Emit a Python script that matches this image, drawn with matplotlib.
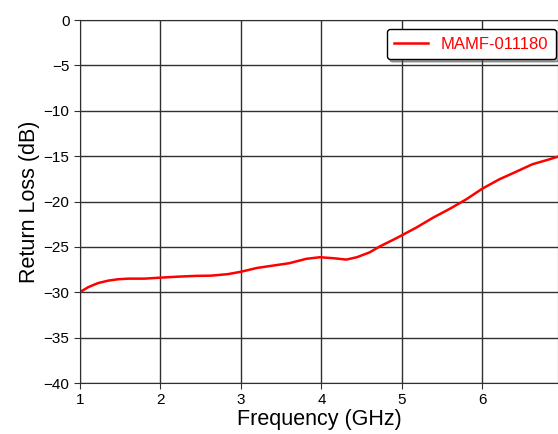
import numpy as np
import matplotlib
matplotlib.use("Agg")
import matplotlib.pyplot as plt

plt.rcParams['font.family'] = ['Liberation Sans', 'DejaVu Sans']

# Return loss
freq_ghz = [1.01, 1.1, 1.22, 1.35, 1.47, 1.6, 1.8, 2.0, 2.22, 2.43, 2.63,
            2.84, 3.0, 3.2, 3.4, 3.6, 3.81, 3.98, 4.15, 4.31, 4.44, 4.6,
            4.73, 4.93, 5.18, 5.39, 5.6, 5.8, 6.0, 6.21, 6.42, 6.62, 6.83,
            6.94]
return_loss_db = [-29.93, -29.45, -29.0, -28.72, -28.57, -28.5, -28.5,
                  -28.39, -28.28, -28.2, -28.17, -28.0, -27.74, -27.32,
                  -27.06, -26.8, -26.32, -26.14, -26.25, -26.4, -26.14,
                  -25.6, -24.93, -24.05, -22.87, -21.77, -20.78, -19.76,
                  -18.58, -17.56, -16.72, -15.9, -15.36, -15.05]
label = "MAMF-011180"

fig = plt.figure(figsize=(5.58, 4.34), dpi=100)
ax = fig.add_axes([0.1434, 0.1175, 0.8566, 0.8364])

ax.plot(freq_ghz, return_loss_db, color='red', linewidth=1.8, label=label)

ax.set_xlim(1, 6.94)
ax.set_ylim(-40, 0)
ax.set_xticks([1, 2, 3, 4, 5, 6])
ax.set_yticks(np.arange(-40, 1, 5))
ax.grid(True, color='#303030', linewidth=1.0)
for s in ax.spines.values():
    s.set_color('#303030')
ax.tick_params(labelsize=11, direction='out', length=4, color='#303030')

ax.set_xlabel("Frequency (GHz)", fontsize=15.5, labelpad=1)
ax.set_ylabel("Return Loss (dB)", fontsize=15.5, labelpad=3)

leg = ax.legend(loc='upper right', bbox_to_anchor=(0.996, 0.975),
                borderaxespad=0, fontsize=12, shadow={'ox': 2, 'oy': -2},
                fancybox=True, edgecolor='black', framealpha=1,
                handlelength=2.0, handletextpad=0.8, borderpad=0.45)
for t in leg.get_texts():
    t.set_color('red')

fig.savefig("out.png", dpi=100)
